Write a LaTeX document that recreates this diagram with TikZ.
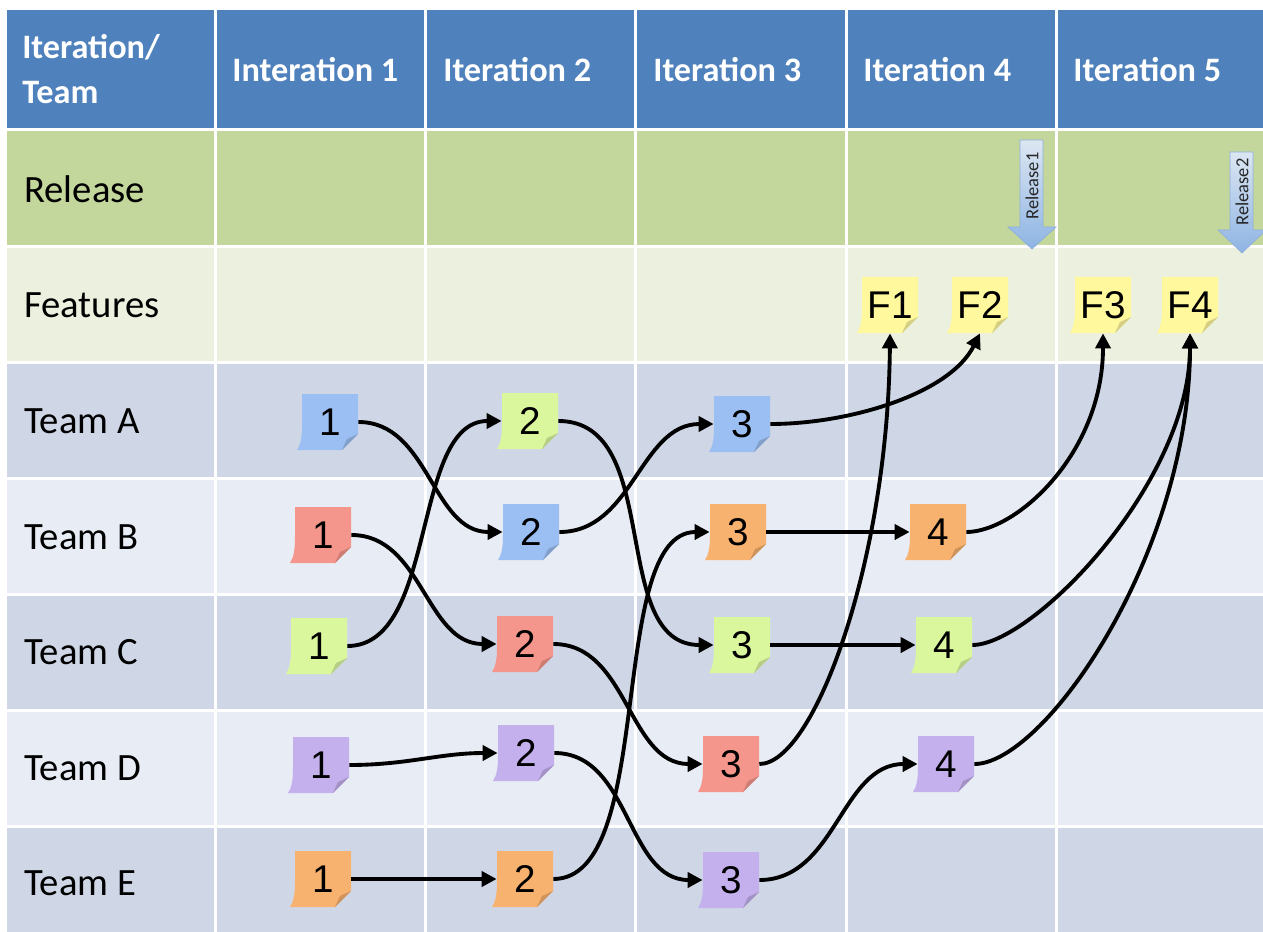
\documentclass[tikz,border=0pt]{standalone}
\usepackage{fontspec}
\setmainfont{Carlito}
\newfontfamily\notefont{Liberation Sans}
\usetikzlibrary{arrows.meta}
\definecolor{hdr}{HTML}{4F81BD}
\definecolor{relrow}{HTML}{C3D69B}
\definecolor{featrow}{HTML}{EBF1DE}
\definecolor{teamdark}{HTML}{CFD7E6}
\definecolor{teamlight}{HTML}{E8ECF4}
\definecolor{nblue}{HTML}{9BBFF2}
\definecolor{nred}{HTML}{F5968C}
\definecolor{ngreen}{HTML}{DAF79E}
\definecolor{npurple}{HTML}{C4B0EC}
\definecolor{norange}{HTML}{F7B26F}
\definecolor{nyellow}{HTML}{FFF89C}
\definecolor{reltop}{HTML}{DCE6F2}
\definecolor{relbot}{HTML}{8EB4E3}
\definecolor{relline}{HTML}{8FB0DC}
\tikzset{
  hdrtxt/.style={anchor=west, text=white, font=\bfseries\fontsize{19.5}{26}\selectfont, align=left, inner sep=0pt},
  rowtxt/.style={anchor=west, text=black, font=\fontsize{22}{26}\selectfont, inner sep=0pt},
  notetxt/.style={font=\notefont\fontsize{22}{24}\selectfont, inner sep=0pt, minimum width=1.12cm, minimum height=1.12cm},
  flow/.style={line width=2.2pt, -{Triangle[length=0.3cm,width=0.3cm]}},
  sep/.style={white, line width=0.06cm},
  relarrow/.style={top color=reltop, bottom color=relbot, draw=relline, line width=0.4pt},
  reltxt/.style={rotate=90, font=\fontsize{10.5}{12}\selectfont, text=black!85, inner sep=0pt}
}
\newcommand{\stickynote}[5]{%
  \fill[#4] ({#2-28},{#3-28}) -- ({#2+28},{#3-28}) -- ({#2+28},{#3+12}) -- ({#2+12},{#3+28}) -- ({#2-33},{#3+28}) .. controls ({#2-29},{#3+22}) and ({#2-28},{#3+14}) .. ({#2-28},{#3+2}) -- cycle;
  \fill[#4!70!black, opacity=0.55] ({#2+28},{#3+12}) -- ({#2+12},{#3+28}) -- ({#2+17},{#3+17}) -- cycle;
  \node[notetxt] (#1) at (#2,#3) {#5};
}
\begin{document}
\begin{tikzpicture}[x=0.02cm,y=-0.02cm]
\useasboundingbox (0,0) rectangle (1263,932);
\fill[white] (0,0) rectangle (1263,932);
% rows
\fill[hdr] (7,10) rectangle (1263,128);
\fill[relrow] (7,131) rectangle (1263,245);
\fill[featrow] (7,248) rectangle (1263,361);
\fill[teamdark] (7,364) rectangle (1263,477);
\fill[teamlight] (7,480) rectangle (1263,593);
\fill[teamdark] (7,596) rectangle (1263,709);
\fill[teamlight] (7,712) rectangle (1263,825);
\fill[teamdark] (7,828) rectangle (1263,932);
% column separators
\foreach \cx in {215.5,425.5,635.5,846,1056.5} \draw[sep] (\cx,10) -- (\cx,932);
% header texts
\node[hdrtxt] (h0) at (22,69) {Iteration/\\Team};
\node[hdrtxt] (h1) at (232,70) {Interation 1};
\node[hdrtxt] (h2) at (443,70) {Iteration 2};
\node[hdrtxt] (h3) at (653,70) {Iteration 3};
\node[hdrtxt] (h4) at (863,70) {Iteration 4};
\node[hdrtxt] (h5) at (1073,70) {Iteration 5};
% row labels
\node[rowtxt] (lrel) at (24,189) {Release};
\node[rowtxt] (lfeat) at (24,305) {Features};
\node[rowtxt] (la) at (24,421) {Team A};
\node[rowtxt] (lb) at (24,537) {Team B};
\node[rowtxt] (lc) at (24,652) {Team C};
\node[rowtxt] (ld) at (24,768) {Team D};
\node[rowtxt] (le) at (24,883) {Team E};
% release arrows
\draw[relarrow] (1020,140) -- (1043,140) -- (1043,227) -- (1056,227) -- (1032,249) -- (1008,227) -- (1020,227) -- cycle;
\node[reltxt] (rel1) at (1032,186) {Release1};
\draw[relarrow] (1230,152) -- (1253,152) -- (1253,230) -- (1266,230) -- (1242,253) -- (1218,230) -- (1230,230) -- cycle;
\node[reltxt] (rel2) at (1242,192) {Release2};
% feature notes
\stickynote{f1}{890}{305}{nyellow}{F1}
\stickynote{f2}{980}{305}{nyellow}{F2}
\stickynote{f3}{1103}{305}{nyellow}{F3}
\stickynote{f4}{1190}{305}{nyellow}{F4}
% team notes
\stickynote{a1}{330}{422}{nblue}{1}
\stickynote{b1}{323}{535}{nred}{1}
\stickynote{c1}{319}{646}{ngreen}{1}
\stickynote{d1}{321}{765}{npurple}{1}
\stickynote{e1}{323}{879}{norange}{1}
\stickynote{a2}{530}{421}{ngreen}{2}
\stickynote{b2}{531}{532}{nblue}{2}
\stickynote{c2}{525}{644}{nred}{2}
\stickynote{d2}{526}{753}{npurple}{2}
\stickynote{e2}{525}{879}{norange}{2}
\stickynote{a3}{742}{424}{nblue}{3}
\stickynote{b3}{738}{532}{norange}{3}
\stickynote{c3}{742}{645}{ngreen}{3}
\stickynote{d3}{731}{764}{nred}{3}
\stickynote{e3}{731}{880}{npurple}{3}
\stickynote{b4}{938}{532}{norange}{4}
\stickynote{c4}{944}{645}{ngreen}{4}
\stickynote{d4}{946}{764}{npurple}{4}
% connectors
\draw[flow] (a1.east) to[out=0,in=180] (b2.west);
\draw[flow] (b1.east) to[out=0,in=180] (c2.west);
\draw[flow] (c1.east) to[out=0,in=180,looseness=0.85] (a2.west);
\draw[flow] (d1.east) to[out=0,in=180] (d2.west);
\draw[flow] (e1.east) -- (e2.west);
\draw[flow] (a2.east) to[out=0,in=180] (c3.west);
\draw[flow] (b2.east) to[out=0,in=180] (a3.west);
\draw[flow] (c2.east) to[out=0,in=180] (d3.west);
\draw[flow] (d2.east) to[out=0,in=180] (e3.west);
\draw[flow] (e2.east) to[out=0,in=180,looseness=0.7] (b3.west);
\draw[flow] (e3.east) to[out=0,in=180] (d4.west);
\draw[flow] (b3.east) -- (b4.west);
\draw[flow] (c3.east) -- (c4.west);
\draw[flow] (a3.east) .. controls +(80,0) and +(-30,60) .. (f2.south);
\draw[flow] (d3.east) .. controls +(55,0) and +(-2,227) .. (f1.south);
\draw[flow] (b4.east) .. controls +(50,0) and +(0,120) .. (f3.south);
\draw[flow] (c4.east) .. controls +(60,0) and +(0,150) .. (f4.south);
\draw[flow] (d4.east) .. controls +(70,0) and +(0,220) .. (f4.south);
\end{tikzpicture}
\end{document}
